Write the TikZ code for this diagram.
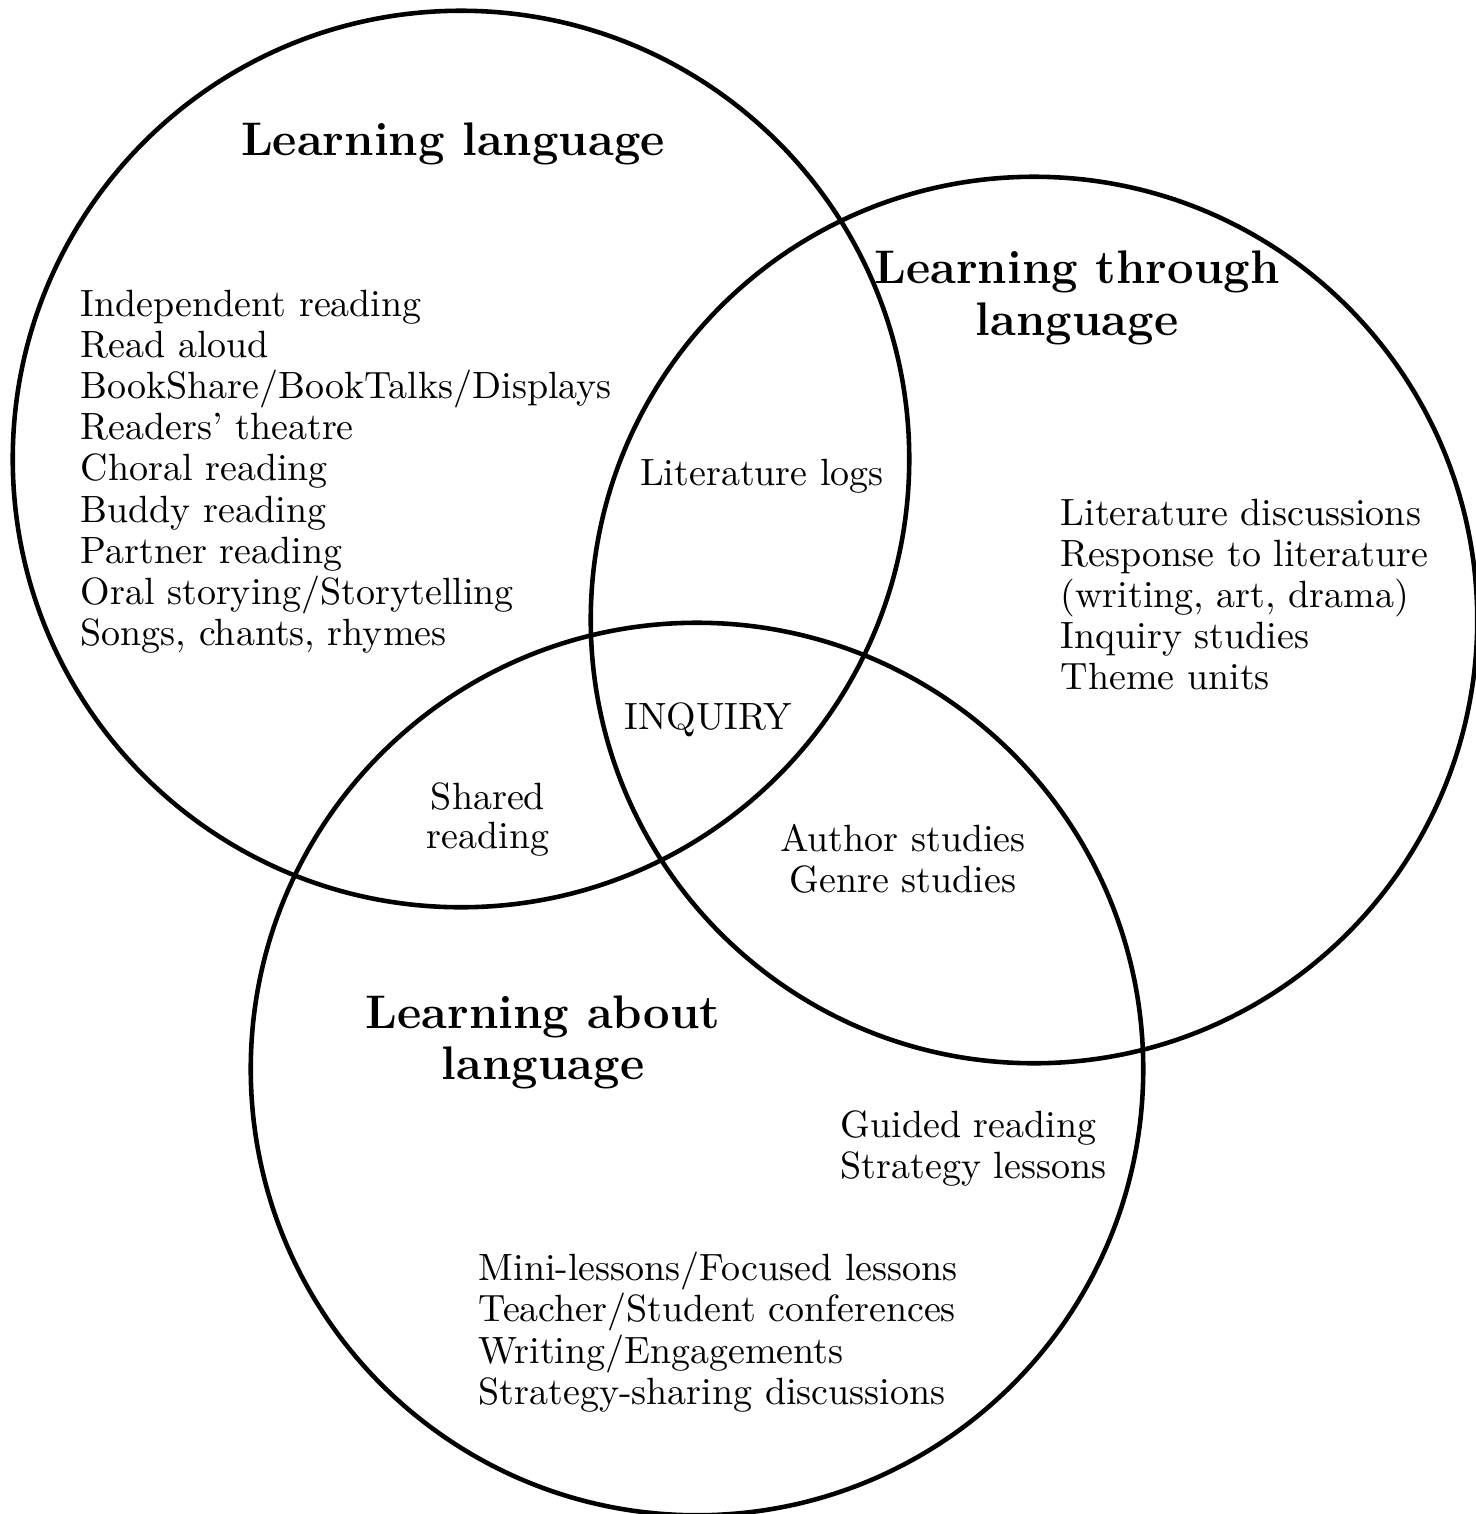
\documentclass[tikz,border=0pt]{standalone}
\usepackage{tikz}
\usetikzlibrary{positioning}
\tikzset{
  ring/.style  ={draw=black,line width=1.3pt},
  item/.style  ={font=\fontsize{10.8}{13}\selectfont,anchor=base west,inner sep=0pt},
  mid/.style   ={font=\fontsize{10.8}{13}\selectfont,anchor=base,inner sep=0pt},
  head/.style  ={font=\fontsize{13.4}{16}\selectfont\bfseries,anchor=base,inner sep=0pt},
}

\begin{document}
\begin{tikzpicture}[x=0.01cm,y=-0.01cm]
\useasboundingbox (0,0) rectangle (1476,1514);
% circles
\draw[ring] (461,459) circle[radius=4.48cm];
\draw[ring] (1034,620) circle[radius=4.43cm];
\draw[ring] (697,1069) circle[radius=4.46cm];
% headings
\node[head] (lang) at (453,155) {Learning language};
\node[head] (thru1) at (1077,283) {Learning through};
\node[head] (thru2) at (1077,335) {language};
\node[head] (about1) at (543,1028) {Learning about};
\node[head] (about2) at (543,1079) {language};
% learning language
\foreach \t [count=\i] in {Independent reading,Read aloud,BookShare/BookTalks/Displays,
    Readers' theatre,Choral reading,Buddy reading,Partner reading,
    Oral storying/Storytelling,{Songs, chants, rhymes}}
  \node[item] (ll\i) at (80,{316+41.2*(\i-1)}) {\t};
% learning through language
\foreach \t [count=\i] in {Literature discussions,Response to literature,
    {(writing, art, drama)},Inquiry studies,Theme units}
  \node[item] (lt\i) at (1060,{525+41.2*(\i-1)}) {\t};
% learning about language
\node[item] (ga1) at (840,1137) {Guided reading};
\node[item] (ga2) at (840,1178) {Strategy lessons};
\foreach \t [count=\i] in {Mini-lessons/Focused lessons,Teacher/Student conferences,
    Writing/Engagements,Strategy-sharing discussions}
  \node[item] (la\i) at (478,{1280+41.5*(\i-1)}) {\t};
% overlaps
\node[mid] (logs) at (762,485) {Literature logs};
\node[mid] (inq) at (708,729) {INQUIRY};
\node[mid] (sh1) at (488,809) {Shared};
\node[mid] (sh2) at (488,848) {reading};
\node[mid] (au1) at (903,851) {Author studies};
\node[mid] (au2) at (903,892) {Genre studies};
\end{tikzpicture}
\end{document}
